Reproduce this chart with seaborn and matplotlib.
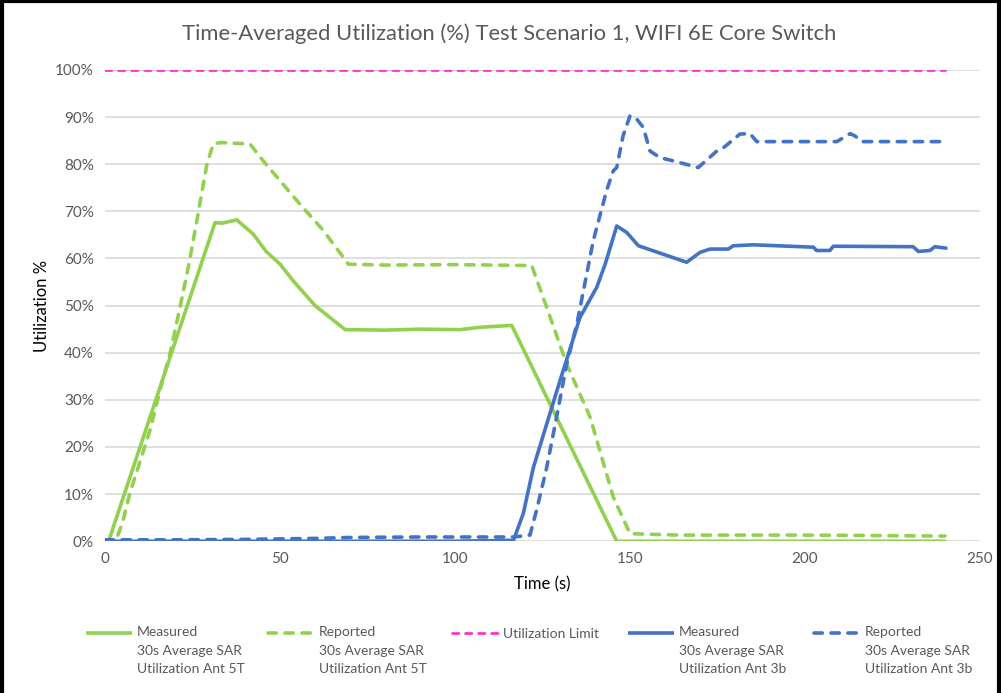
import matplotlib
matplotlib.use("Agg")
import matplotlib.pyplot as plt
import pandas as pd
import seaborn as sns
from matplotlib.lines import Line2D
from matplotlib.ticker import PercentFormatter

sns.set_theme(style="white")
plt.rcParams["font.family"] = ["Lato", "DejaVu Sans"]

# values (time in s, utilization in %)
green_meas_x = [0, 1, 31.4, 33.5, 37.6, 42.3, 46, 50, 53.7, 60, 68.6, 80, 90, 101.4, 107.1, 116.2, 146.2, 240]
green_meas_y = [0, 0, 67.6, 67.5, 68.2, 65.2, 61.5, 58.8, 55.3, 50, 44.9, 44.8, 45, 44.9, 45.4, 45.8, 0, 0]

green_rep_x = [0, 3, 5, 7, 10, 13, 16, 18.6, 21.4, 24, 26.2, 29.1, 30.9, 33, 41.4, 45.2, 50, 55.7, 62.4,
               69.5, 80, 100, 121.9, 126.2, 131.9, 138.6, 145.2, 150, 164.3, 200, 240]
green_rep_y = [0, 0, 4, 10, 17, 24, 33, 40, 49.6, 59, 68, 80, 84.3, 84.6, 84.3, 80.7, 76.5, 71.5, 65.9,
               58.8, 58.6, 58.7, 58.5, 49.6, 37.6, 26.3, 9.4, 1.6, 1.3, 1.3, 1.1]

limit_x = [0, 240]
limit_y = [100, 100]

blue_meas_x = [0, 50, 100, 116.7, 119.5, 122.4, 126.2, 130, 135.7, 140.5, 142.9, 146.2, 149.1, 152.4, 166.2,
               170, 172.9, 178.1, 179.5, 185.2, 202.4, 203.3, 207.1, 208.1, 230.9, 232.4, 235.7, 237.1, 240.3]
blue_meas_y = [0, 0, 0, 0.2, 5.9, 15.7, 24.9, 34.1, 47.5, 53.9, 58.8, 66.9, 65.5, 62.7, 59.2,
               61.3, 62, 62, 62.7, 62.9, 62.4, 61.7, 61.7, 62.6, 62.5, 61.5, 61.7, 62.5, 62.2]

blue_rep_x = [0, 20, 40, 60, 70, 90, 116.7, 121.4, 123.3, 126.2, 129, 131.9, 134.8, 136.7, 139.5, 143.3,
              145.2, 146.2, 148, 150, 152, 153.8, 155.7, 158.6, 162.4, 169.5, 174.8, 176.7, 181.4, 184.3,
              186.2, 209.1, 212.9, 214.3, 216.2, 238.6, 240.3]
blue_rep_y = [0.3, 0.3, 0.4, 0.6, 0.8, 0.9, 0.9, 1.3, 6.6, 15.7, 26.3, 37.6, 46.1, 53.2, 63.8, 74.4,
              78.6, 79.3, 86, 90.3, 89.5, 87.8, 82.8, 81.4, 80.7, 79.3, 82.8, 83.5, 86.4, 86.5,
              84.8, 84.8, 86.5, 86, 84.8, 84.8, 85.4]

labels = ["Measured\n30s Average SAR\nUtilization Ant 5T",
          "Reported\n30s Average SAR\nUtilization Ant 5T",
          "Utilization Limit",
          "Measured\n30s Average SAR\nUtilization Ant 3b",
          "Reported\n30s Average SAR\nUtilization Ant 3b"]

GREEN = "#92D050"
BLUE = "#4472C4"
PINK = "#FF33CC"
GREY = "#595959"
DASH = (2.3, 2.4)

series = [
    (green_meas_x, green_meas_y, GREEN, None, 2.6),
    (green_rep_x, green_rep_y, GREEN, DASH, 2.6),
    (limit_x, limit_y, PINK, DASH, 2.0),
    (blue_meas_x, blue_meas_y, BLUE, None, 2.6),
    (blue_rep_x, blue_rep_y, BLUE, DASH, 2.6),
]

fig = plt.figure(figsize=(10.01, 6.93), dpi=100)
ax = fig.add_axes([0.105, 0.219, 0.874, 0.680])

for x, y, col, dash, lw in series:
    df = pd.DataFrame({"t": x, "u": y})
    sns.lineplot(data=df, x="t", y="u", ax=ax, color=col, linewidth=lw, sort=False,
                 solid_capstyle="round", dash_capstyle="round")
    if dash is not None:
        ax.lines[-1].set_dashes(dash)

ax.set_xlim(0, 250)
ax.set_ylim(0, 100)
ax.set_xticks(range(0, 251, 50))
ax.set_yticks(range(0, 101, 10))
ax.yaxis.set_major_formatter(PercentFormatter(100, decimals=0))
ax.grid(axis="y", color="#D9D9D9", linewidth=1.2)
ax.set_axisbelow(True)
for s in ax.spines.values():
    s.set_visible(False)
ax.tick_params(axis="both", length=0, labelsize=11, labelcolor=GREY, pad=8)

ax.set_xlabel("Time (s)", fontsize=12, color="black", labelpad=7)
ax.set_ylabel("Utilization %", fontsize=12, color="black", labelpad=4)
fig.text(0.509, 0.952, "Time-Averaged Utilization (%) Test Scenario 1, WIFI 6E Core Switch",
         ha="center", va="center", fontsize=15.8, color=GREY)

# legend: one entry per column, handle level with the first text line
leg_x = [86, 268, 452, 628, 814]
for i, (x, y, col, dash, lw) in enumerate(series):
    h = Line2D([], [], color=col, linewidth=lw, solid_capstyle="butt", dash_capstyle="round")
    if dash is not None:
        h.set_dashes(dash)
    lines = labels[i].split("\n")
    lab = "\n".join([""] * (len(lines) - 1) + lines)
    top = 590 if len(lines) > 1 else 628
    leg = fig.legend(handles=[h], labels=[lab], loc="upper left",
                     bbox_to_anchor=(leg_x[i] / 1001, 1 - top / 693),
                     frameon=False, fontsize=10, labelcolor=GREY, handlelength=3.3,
                     handletextpad=0.35, borderpad=0, labelspacing=0, borderaxespad=0)
    for t in leg.get_texts():
        t.set_linespacing(1.62)

# black frame of the screenshot (left, top, right)
for xs, ys in [([0.002, 0.002], [0, 0.998]), ([0.002, 0.998], [0.998, 0.998]), ([0.998, 0.998], [0, 0.998])]:
    fig.add_artist(Line2D(xs, ys, transform=fig.transFigure, color="black", linewidth=3))

fig.savefig("out.png", dpi=100)
